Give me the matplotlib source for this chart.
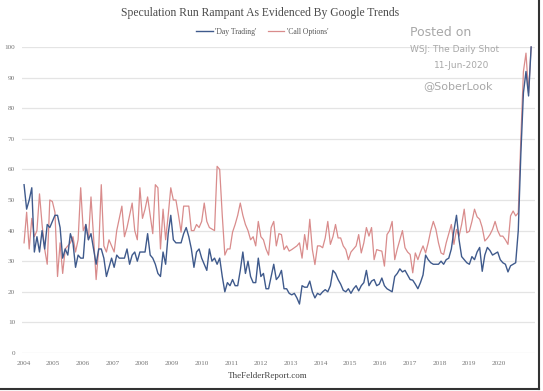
import matplotlib
matplotlib.use("Agg")
import matplotlib.pyplot as plt
import numpy as np

# monthly Google Trends index, Jan 2004 .. Jun 2020
day_trading = [
    55, 47, 50, 54, 33, 38, 33, 40, 34, 42, 41, 43, 45, 45, 41, 31, 34, 32, 39, 36,
    28, 32, 31, 31, 42, 37, 39, 34, 29, 34, 34, 31, 25, 28, 31, 28, 32, 31, 31, 31,
    34, 29, 32, 33, 30, 33, 33, 33, 39, 32, 31, 29, 26, 25, 33, 29, 39, 45, 37, 36,
    36, 36, 39, 41, 38, 34, 28, 33, 34, 31, 29, 27, 34, 30, 31, 29, 31, 25, 20, 23,
    22, 24, 22, 22, 27, 33, 26, 30, 25, 23, 23, 31, 25, 26, 21, 21, 25, 29, 24, 25,
    27, 21, 21, 19.5, 19, 19.5, 18, 16, 22, 21.5, 21.5, 23.5, 20, 18, 19.5, 19, 20, 20.7, 20, 22,
    27, 26, 24, 22.5, 20.5, 20, 21, 19.5, 21, 22, 20.3, 22, 23, 27, 22, 23.5, 24, 22, 22.5, 24.5,
    22, 21, 20.5, 20, 25, 26, 27.5, 26.5, 27, 25.5, 24, 23.8, 22.5, 21, 23, 25.5, 32, 30.5, 29.5, 29,
    29, 29, 30, 29, 30.5, 31, 34, 40, 45, 37, 31.5, 30.5, 29.5, 29, 31.5, 30.5, 33, 34.5, 26.7, 32,
    34.5, 33.5, 32, 32.5, 33, 30.5, 29.5, 29, 26.5, 28.5, 29, 29.5, 40, 65, 85, 92, 84, 100,
]
call_options = [
    36, 46, 34, 44, 38, 40, 52, 42, 34, 29, 50, 49.5, 46, 25, 36, 26, 34, 35, 36, 38,
    33, 37, 54, 40, 42, 37, 51, 38, 24, 34, 55, 35, 33, 37, 35, 33, 40, 44, 48, 38,
    41, 45, 49, 40, 37, 54, 44, 47, 51, 45, 39, 55, 54, 34, 47, 37, 45, 54, 50, 50,
    45, 39.5, 48, 48, 48, 40, 40, 42, 41, 43, 49, 43, 41, 40.5, 40, 61, 60, 45, 32, 34,
    34, 39.5, 42, 45, 49, 45, 42, 40, 37, 38, 35, 43, 38, 37, 34, 32, 41, 43, 35, 39,
    38.7, 33.8, 35, 33.3, 33.8, 34.4, 35, 36, 31, 38.7, 33.8, 43.7, 33.8, 28.9, 35, 35, 34.4, 37.6, 43, 35.5,
    38, 42, 37.6, 37.6, 35, 33.8, 30.5, 33, 34, 35, 38.7, 32.7, 36, 41, 38.2, 41, 30.5, 33.8, 33.5, 33.3,
    28.4, 38.7, 40, 43, 30.5, 34, 37, 40, 34.4, 33, 32.2, 26.2, 32.7, 30.5, 33, 35, 32.7, 36, 40, 43,
    40.4, 36, 32.7, 32.2, 36, 39, 42, 35.5, 40.4, 38.2, 42, 47, 39.3, 39.8, 43, 47, 44.5, 43.7, 41, 36.6,
    37.5, 38.7, 40.4, 43, 40, 38.2, 38.2, 37, 35.5, 44.8, 46.4, 44.8, 45.8, 70, 92, 98, 85, 100,
]
years = [str(y) for y in range(2004, 2021)]
yticks = list(range(0, 101, 10))

W, H = 543, 391
fig = plt.figure(figsize=(W / 100, H / 100), dpi=100)
fig.patch.set_facecolor("white")
ax = fig.add_axes([22 / W, 1 - 353 / H, (535 - 22) / W, (353 - 47) / H])

months = np.arange(len(day_trading))
ax.plot(months, call_options, color="#d98c8c", lw=0.9, clip_on=False, zorder=3,
        label="'Call Options'")
ax.plot(months, day_trading, color="#3f5a8c", lw=1.0, clip_on=False, zorder=4,
        label="'Day Trading'")

ax.set_xlim(-0.8, 198.5)
ax.set_ylim(0, 100)
ax.set_yticks(yticks)
ax.set_yticklabels([str(v) for v in yticks])
# year labels as spaced in the source chart
ax.set_xticks([-0.3 + 11.55 * k for k in range(len(years))])
ax.set_xticklabels(years)
ax.grid(axis="y", color="#e4e4e4", lw=0.9)
ax.grid(axis="x", visible=False)
ax.set_axisbelow(True)
for s in ax.spines.values():
    s.set_visible(False)
ax.tick_params(length=0, labelsize=5.2, colors="#777777")
ax.tick_params(axis="x", pad=6)
ax.tick_params(axis="y", pad=5)
for lab in ax.get_xticklabels() + ax.get_yticklabels():
    lab.set_family("Liberation Serif")

handles, labels = ax.get_legend_handles_labels()
leg = fig.legend(handles[::-1], labels[::-1], loc="center", bbox_to_anchor=(262 / W, 1 - 32 / H),
                 ncol=2, frameon=False, prop={"family": "Liberation Serif", "size": 5.5},
                 handlelength=2.2, handletextpad=0.3, columnspacing=1.5)
for t in leg.get_texts():
    t.set_color("#555555")

fig.text(260 / W, 1 - 13 / H, "Speculation Run Rampant As Evidenced By Google Trends",
         ha="center", va="center", family="Liberation Serif", size=8.4, color="#4a4a4a")
fig.text(268 / W, 1 - 376 / H, "TheFelderReport.com", ha="center", va="center",
         family="Liberation Serif", size=6.5, color="#444444")

wm = "#a8a8a8"
fig.text(410 / W, 1 - 32 / H, "Posted on", ha="left", va="center", size=9.0, color=wm)
fig.text(410 / W, 1 - 49 / H, "WSJ: The Daily Shot", ha="left", va="center", size=6.5, color=wm)
fig.text(489 / W, 1 - 65 / H, "11-Jun-2020", ha="right", va="center", size=6.5, color=wm)
fig.text(423 / W, 1 - 86 / H, "@SoberLook", ha="left", va="center", size=8.0, color=wm)

# dark frame on the right and bottom of the screenshot
fig.add_artist(plt.Line2D([539 / W, 539 / W], [1 - 389 / H, 1], transform=fig.transFigure,
                          color="#333333", lw=1.5))
fig.add_artist(plt.Line2D([0, 539 / W], [1 - 389 / H, 1 - 389 / H], transform=fig.transFigure,
                          color="#333333", lw=1.5))

fig.savefig("out.png", dpi=100)
